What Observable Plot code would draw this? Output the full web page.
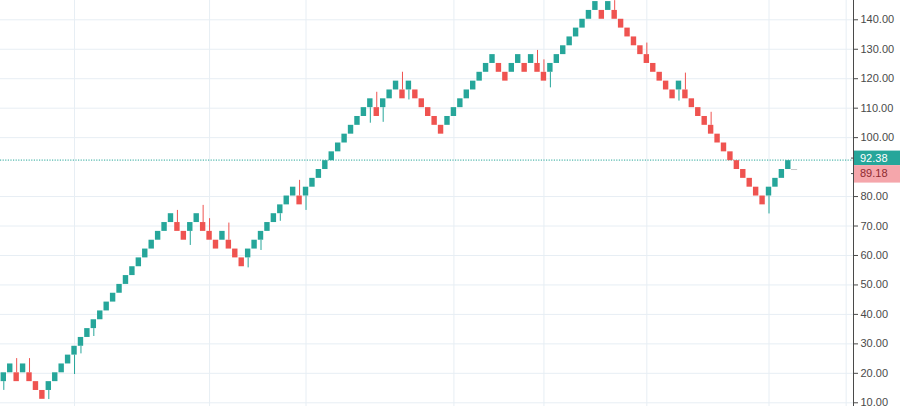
<!DOCTYPE html>
<html>
<head>
<meta charset="utf-8">
<script src="https://cdn.jsdelivr.net/npm/d3@7"></script>
<script src="https://cdn.jsdelivr.net/npm/@observablehq/plot@0.6"></script>
<style>
  html, body { margin: 0; padding: 0; background: #fff; }
  #chart svg { display: block; }
</style>
</head>
<body>
<div id="chart"></div>
<script>
// Renko bricks (box size 3)
const brickOpen = [
  17.18, 20.18, 20.18, 20.18, 20.18, 17.18, 14.18, 14.18, 17.18, 20.18,
  23.18, 26.18, 29.18, 32.18, 35.18, 38.18, 41.18, 44.18, 47.18, 50.18,
  53.18, 56.18, 59.18, 62.18, 65.18, 68.18, 71.18, 71.18, 68.18, 68.18,
  71.18, 71.18, 68.18, 65.18, 65.18, 65.18, 62.18, 59.18, 59.18, 62.18,
  65.18, 68.18, 71.18, 74.18, 77.18, 80.18, 80.18, 80.18, 83.18, 86.18,
  89.18, 92.18, 95.18, 98.18, 101.18, 104.18, 107.18, 110.18, 110.18, 110.18,
  113.18, 116.18, 116.18, 116.18, 116.18, 113.18, 110.18, 107.18, 104.18, 104.18,
  107.18, 110.18, 113.18, 116.18, 119.18, 122.18, 125.18, 125.18, 122.18, 122.18,
  125.18, 125.18, 125.18, 125.18, 122.18, 122.18, 125.18, 128.18, 131.18, 134.18,
  137.18, 140.18, 143.18, 143.18, 143.18, 143.18, 140.18, 137.18, 134.18, 131.18,
  128.18, 125.18, 122.18, 119.18, 116.18, 116.18, 116.18, 113.18, 110.18, 107.18,
  104.18, 101.18, 98.18, 95.18, 92.18, 89.18, 86.18, 83.18, 80.18, 80.18,
  83.18, 86.18, 89.18
];
const brickClose = [
  20.18, 23.18, 17.18, 23.18, 17.18, 14.18, 11.18, 17.18, 20.18, 23.18,
  26.18, 29.18, 32.18, 35.18, 38.18, 41.18, 44.18, 47.18, 50.18, 53.18,
  56.18, 59.18, 62.18, 65.18, 68.18, 71.18, 74.18, 68.18, 65.18, 71.18,
  74.18, 68.18, 65.18, 62.18, 68.18, 62.18, 59.18, 56.18, 62.18, 65.18,
  68.18, 71.18, 74.18, 77.18, 80.18, 83.18, 77.18, 83.18, 86.18, 89.18,
  92.18, 95.18, 98.18, 101.18, 104.18, 107.18, 110.18, 113.18, 107.18, 113.18,
  116.18, 119.18, 113.18, 119.18, 113.18, 110.18, 107.18, 104.18, 101.18, 107.18,
  110.18, 113.18, 116.18, 119.18, 122.18, 125.18, 128.18, 122.18, 119.18, 125.18,
  128.18, 122.18, 128.18, 122.18, 119.18, 125.18, 128.18, 131.18, 134.18, 137.18,
  140.18, 143.18, 146.18, 140.18, 146.18, 140.18, 137.18, 134.18, 131.18, 128.18,
  125.18, 122.18, 119.18, 116.18, 113.18, 119.18, 113.18, 110.18, 107.18, 104.18,
  101.18, 98.18, 95.18, 92.18, 89.18, 86.18, 83.18, 80.18, 77.18, 83.18,
  86.18, 89.18, 92.18
];
// wicks: brick index and the price the wick reaches
const wickIndex = [0, 2, 4, 7, 11, 12, 14, 27, 29, 31, 32, 35, 38, 40, 43, 46, 47,
  57, 58, 59, 62, 63, 83, 84, 85, 95, 100, 105, 106, 110, 119];
const wickEnd = [14.2, 25.0, 25.0, 11.1, 19.6, 26.6, 32.5, 75.3, 63.4, 77.0, 72.5, 71.0, 55.8, 61.7, 71.6, 85.5, 75.3,
  104.9, 115.4, 105.2, 122.2, 112.8, 129.6, 126.4, 116.9, 146.5, 132.1, 112.4, 121.9, 108.6, 74.1];

const yTicks = [10, 20, 30, 40, 50, 60, 70, 80, 100, 110, 120, 130, 140];
const xGridIndex = [11, 32, 47, 70, 84, 100, 119, 131];
const lastPrice = 92.38;
const renkoPrice = 89.18;

const xDomain = [-0.513, 132.14];
const yDomain = [8.74, 146.55];
const teal = "#26a69a";
const red = "#ef5350";

const bricks = brickOpen.map((o, i) => ({i, open: o, close: brickClose[i], up: brickClose[i] > o}));
const wicks = wickIndex.map((i, k) => ({i, from: brickOpen[i], to: wickEnd[k], up: brickClose[i] > brickOpen[i]}));
const lastIdx = bricks.length - 1;
const bw = 0.42;

const plot = Plot.plot({
  width: 900,
  height: 406,
  marginLeft: 0,
  marginRight: 47,
  marginTop: 0,
  marginBottom: 0,
  style: {fontFamily: "'Liberation Sans', Arial, sans-serif", fontSize: "11px", background: "#fff", color: "#4a4a4a"},
  x: {domain: xDomain, axis: null},
  y: {domain: yDomain, axis: "right", ticks: yTicks, tickFormat: d => d.toFixed(2), tickSize: 4, tickPadding: 3, label: null},
  marks: [
    Plot.ruleY(yTicks, {stroke: "#e7eef4", strokeWidth: 1}),
    Plot.ruleX(xGridIndex, {stroke: "#e7eef4", strokeWidth: 1}),
    Plot.ruleY([lastPrice], {stroke: teal, strokeDasharray: "1.2,1.4", strokeWidth: 1}),
    Plot.ruleX(wicks.filter(d => d.up), {x: "i", y1: "from", y2: "to", stroke: teal, strokeWidth: 1}),
    Plot.ruleX(wicks.filter(d => !d.up), {x: "i", y1: "from", y2: "to", stroke: red, strokeWidth: 1}),
    Plot.rect(bricks.filter(d => d.up), {x1: d => d.i - bw, x2: d => d.i + bw, y1: "open", y2: "close", fill: teal}),
    Plot.rect(bricks.filter(d => !d.up), {x1: d => d.i - bw, x2: d => d.i + bw, y1: "open", y2: "close", fill: red}),
    Plot.ruleY([renkoPrice], {x1: () => lastIdx + 0.5, x2: () => lastIdx + 1.45, stroke: "#c8c8c8", strokeWidth: 1}),
    Plot.ruleX([xDomain[1]], {stroke: "#4a4a4a", strokeWidth: 1})
  ]
});

document.getElementById("chart").appendChild(plot);

// price labels on the scale
const ys = plot.scale("y");
const xs = plot.scale("x");
const svg = d3.select(plot);
const axisX = xs.apply(xDomain[1]);
const yy = ys.apply(lastPrice);
const g = svg.append("g")
  .attr("font-family", "'Liberation Sans', Arial, sans-serif")
  .attr("font-size", 11)
  .attr("text-anchor", "start");
g.append("rect").attr("x", axisX + 1).attr("y", yy - 9).attr("width", 900 - axisX - 1).attr("height", 14.5).attr("fill", teal);
g.append("text").attr("x", axisX + 7).attr("y", yy - 1.5).attr("dy", "0.35em").attr("fill", "#fff").text(lastPrice.toFixed(2));
g.append("rect").attr("x", axisX + 1).attr("y", yy + 5.5).attr("width", 900 - axisX - 1).attr("height", 17.5).attr("fill", "#f5a6ab");
g.append("text").attr("x", axisX + 7).attr("y", yy + 14).attr("dy", "0.35em").attr("fill", "#8e2a30").text(renkoPrice.toFixed(2));
g.append("line").attr("x1", axisX - 2).attr("x2", axisX + 1).attr("y1", yy - 1.5).attr("y2", yy - 1.5).attr("stroke", "#4a4a4a");
g.append("line").attr("x1", axisX - 2).attr("x2", axisX + 1).attr("y1", yy + 14).attr("y2", yy + 14).attr("stroke", "#4a4a4a");
</script>
</body>
</html>
